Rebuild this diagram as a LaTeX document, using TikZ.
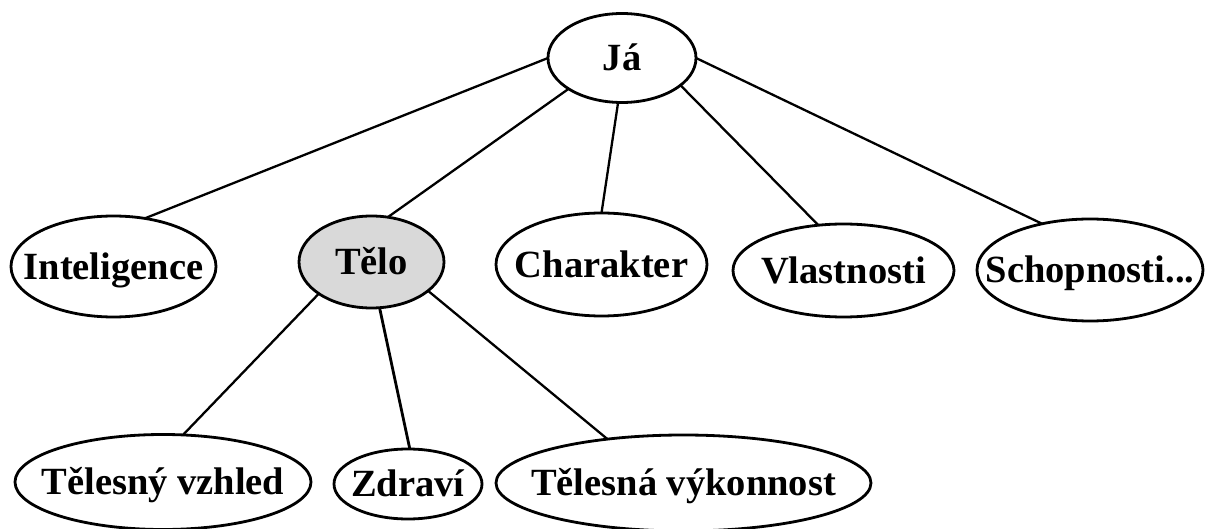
\documentclass[tikz,border=0pt]{standalone}
\usepackage{fontspec}
\setmainfont{Liberation Serif}
\usetikzlibrary{shapes.geometric}
\definecolor{telogray}{RGB}{217,217,217}
\newcommand\eltext[1]{\makebox[0pt]{\raisebox{-0.33em}[0pt][0pt]{#1}}}
\begin{document}
\begin{tikzpicture}[x=1pt,y=-1pt,
  bub/.style={draw=black, line width=2.8pt, ellipse, inner sep=0pt, outer sep=0pt,
    font=\bfseries\fontsize{38.5}{40}\selectfont},
  link/.style={draw=black, line width=2.3pt}]
\useasboundingbox (0,0) rectangle (1211,529);
\node[bub, minimum width=148pt, minimum height=89pt] (ja) at (622,58) {\eltext{Já}};
\node[bub, minimum width=205pt, minimum height=101pt] (intel) at (113.5,266.5) {\eltext{Inteligence}};
\node[bub, fill=telogray, minimum width=145pt, minimum height=92pt] (telo) at (371.5,262) {\eltext{Tělo}};
\node[bub, minimum width=211pt, minimum height=103pt] (char) at (601.5,264.5) {\eltext{Charakter}};
\node[bub, minimum width=221pt, minimum height=93pt] (vlast) at (843.5,270.5) {\eltext{Vlastnosti}};
\node[bub, minimum width=226pt, minimum height=102pt] (schop) at (1090,270) {\eltext{Schopnosti...}};
\node[bub, minimum width=296pt, minimum height=95pt] (vzhled) at (163,482) {\eltext{Tělesný vzhled}};
\node[bub, minimum width=148pt, minimum height=70pt] (zdravi) at (408,484) {\eltext{Zdraví}};
\node[bub, minimum width=375pt, minimum height=96pt] (vykon) at (683.5,483) {\eltext{Tělesná výkonnost}};
\draw[link] (ja.180) -- (intel.57);
\draw[link] (ja.210.8) -- (telo.70.7);
\draw[link] (ja.265) -- (char.90);
\draw[link] (ja.335.3) -- (vlast.119.2);
\draw[link] (ja.0) -- (schop.136.7);
\draw[link] (telo.211.8) -- (vzhled.67.8);
\draw[link, line width=2.8pt] (telo.280.3) -- (zdravi.87);
\draw[link] (telo.333.3) -- (vykon.150.6);
\end{tikzpicture}
\end{document}
